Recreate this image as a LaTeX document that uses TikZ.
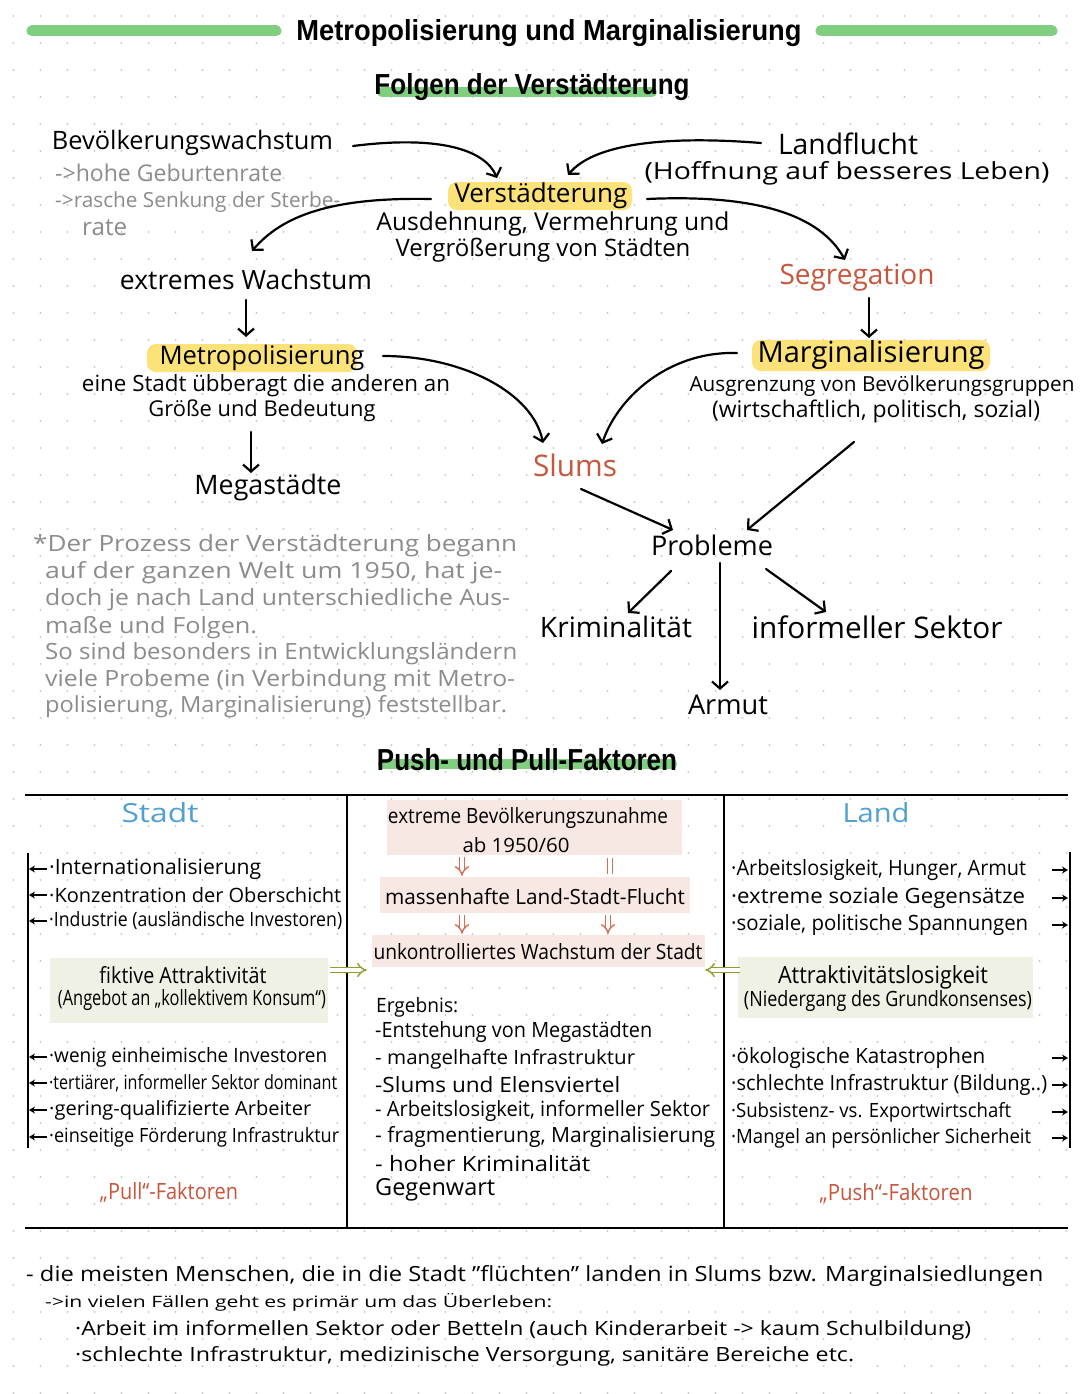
\documentclass[tikz,border=0pt]{standalone}
\usepackage{graphicx}
\usepackage{fontspec}
\setmainfont{Open Sans}
\newfontfamily\titlefont{Liberation Sans}
\usetikzlibrary{arrows.meta,calc}
\definecolor{dotc}{RGB}{205,205,205}
\definecolor{bandgreen}{RGB}{128,207,128}
\definecolor{hly}{RGB}{252,226,120}
\definecolor{redtxt}{RGB}{200,85,60}
\definecolor{bluetxt}{RGB}{80,160,210}
\definecolor{graytxt}{RGB}{140,140,140}
\definecolor{pinkfill}{RGB}{248,232,228}
\definecolor{lgfill}{RGB}{238,241,228}
\definecolor{olive}{RGB}{140,160,50}
\definecolor{redarr}{RGB}{214,110,85}
\newcommand\fw[2]{\resizebox{#1pt}{!}{#2}}
\newcommand\fwh[3]{\resizebox{#1pt}{#2pt}{#3}}
\begin{document}
\begin{tikzpicture}[x=1pt,y=-1pt,
  txt/.style={inner sep=0pt, font=\fontsize{20}{24}\selectfont},
  lt/.style={txt, anchor=west},
  gtxt/.style={text=graytxt},
  head/.style={inner sep=0pt, anchor=base},
  band/.style={line width=10pt, line cap=round, draw=bandgreen},
  arr/.style={line width=2.2pt, line cap=round, -{Straight Barb[length=7pt,width=16pt]}},
  sarr/.style={line width=1.4pt, -{Stealth[length=6pt,width=7pt]}},
  tline/.style={line width=2.5pt},
  bline/.style={line width=2pt},
  pbox/.style={fill=pinkfill, inner sep=0pt},
  gbox/.style={fill=lgfill, inner sep=0pt},
  dblr/.style={draw=redarr, double=white, double distance=3.5pt, line width=1.4pt},
  dblg/.style={draw=olive, double=white, double distance=3.5pt, line width=1.4pt},
]
\useasboundingbox (0,0) rectangle (1080,1394);
\fill[white] (0,0) rectangle (1080,1394);
\foreach \i in {0,...,39} \foreach \j in {0,...,51} \fill[dotc] (13.5+27*\i, 16+27*\j) circle (1.1pt);

% ---------- headings ----------
\draw[band, line width=11pt] (32,31) -- (276,31);
\draw[band, line width=11pt] (821,31) -- (1052,31);
\node[head] (title) at (549,41) {\fwh{505}{21}{\titlefont\bfseries Metropolisierung und Marginalisierung}};
\draw[band] (382,92) -- (652,92);
\node[head] (folgen) at (532,95) {\fwh{315}{21}{\titlefont\bfseries Folgen der Verstädterung}};

% ---------- highlights ----------
\fill[hly, rounded corners=9pt] (448,182) rectangle (632,210);
\fill[hly, rounded corners=9pt] (147,344) rectangle (357,372);
\fill[hly, rounded corners=9pt] (752,340) rectangle (990,371);

% ---------- top diagram ----------
\node[txt] (bev) at (192.5,143) {\fw{281}{Bevölkerungswachstum}};
\node[lt, gtxt] (geb) at (55,173) {\fw{227}{->hohe Geburtenrate}};
\node[lt, gtxt] (sterbe) at (55,202) {\fw{285}{->rasche Senkung der Sterbe-}};
\node[lt, gtxt] (rate) at (82,228) {\fw{45}{rate}};
\node[txt] (verst) at (541,196) {\fw{173}{Verstädterung}};
\node[txt] (ausd) at (553,224) {\fw{353}{Ausdehnung, Vermehrung und}};
\node[txt] (vergr) at (543,250) {\fw{295}{Vergrößerung von Städten}};
\node[txt] (landfl) at (848,144) {\fw{140}{Landflucht}};
\node[txt] (hoff) at (847,173) {\fwh{405}{18}{(Hoffnung auf besseres Leben)}};
\node[txt] (extr) at (246,280) {\fw{252}{extremes Wachstum}};
\node[txt, text=redtxt] (segr) at (857,278) {\fw{155}{Segregation}};
\node[txt] (metro) at (262,358) {\fw{205}{Metropolisierung}};
\node[txt] (eine) at (266,386) {\fw{368}{eine Stadt übberagt die anderen an}};
\node[txt] (groesse) at (262,411) {\fw{227}{Größe und Bedeutung}};
\node[txt] (mega) at (268,488) {\fw{147}{Megastädte}};
\node[txt] (margi) at (871,355) {\fw{227}{Marginalisierung}};
\node[txt] (ausg) at (882,386) {\fw{385}{Ausgrenzung von Bevölkerungsgruppen}};
\node[txt] (wirt) at (876,411) {\fw{328}{(wirtschaftlich, politisch, sozial)}};
\node[txt, text=redtxt] (slums) at (575,465) {\fw{84}{Slums}};
\node[txt] (probl) at (712,545) {\fw{122}{Probleme}};
\node[txt] (krim) at (616,627) {\fw{152}{Kriminalität}};
\node[txt] (inform) at (877,627) {\fw{251}{informeller Sektor}};
\node[txt] (armut) at (728,705) {\fw{80}{Armut}};

\draw[arr] ($(bev)+(160.5,3)$) .. controls +(87,-11) and +(-12,-28) .. ($(verst)+(-44,-18)$);
\draw[arr] ($(landfl)+(-87,-1)$) .. controls +(-100,-8) and +(25,-30) .. ($(verst)+(27,-21)$);
\draw[arr] ($(verst)+(-110,3)$) .. controls +(-100,-2) and +(30,-35) .. ($(extr)+(6,-29)$);
\draw[arr] ($(verst)+(106,3)$) .. controls +(110,-5) and +(-25,-45) .. ($(segr)+(-12,-18)$);
\draw[arr] ($(extr)+(0,20)$) -- ($(metro)+(-16,-21)$);
\draw[arr] ($(segr)+(12,20)$) -- ($(margi)+(-2,-17)$);
\draw[arr] ($(groesse)+(-11,21)$) -- ($(mega)+(-17,-15)$);
\draw[arr] ($(metro)+(121,-2)$) .. controls +(80,0) and +(-10,-50) .. ($(slums)+(-32,-22)$);
\draw[arr] ($(margi)+(-134,-2)$) .. controls +(-70,-2) and +(15,-45) .. ($(slums)+(27,-21)$);
\draw[arr] ($(slums)+(6,24)$) -- ($(probl)+(-39,-15)$);
\draw[arr] ($(wirt)+(-22,31)$) -- ($(probl)+(35,-15)$);
\draw[arr] ($(probl)+(-41,26)$) -- ($(krim)+(12,-14)$);
\draw[arr] ($(probl)+(8,18)$) -- ($(armut)+(-8,-15)$);
\draw[arr] ($(probl)+(54,24)$) -- ($(inform)+(-51,-15)$);

% ---------- gray note ----------
\node[lt, gtxt] (p1) at (33,546) {\fwh{484}{17}{*Der Prozess der Verstädterung begann}};
\node[lt, gtxt] (p2) at (45,573) {\fwh{457}{17}{auf der ganzen Welt um 1950, hat je-}};
\node[lt, gtxt] (p3) at (45,600) {\fwh{465}{17}{doch je nach Land unterschiedliche Aus-}};
\node[lt, gtxt] (p4) at (45,628) {\fwh{212}{17}{maße und Folgen.}};
\node[lt, gtxt] (p5) at (45,654) {\fwh{472}{17}{So sind besonders in Entwicklungsländern}};
\node[lt, gtxt] (p6) at (45,681) {\fwh{470}{17}{viele Probeme (in Verbindung mit Metro-}};
\node[lt, gtxt] (p7) at (45,707) {\fwh{462}{17}{polisierung, Marginalisierung) feststellbar.}};

% ---------- push / pull ----------
\draw[band] (383,764) -- (672,764);
\node[head] (pp) at (527,770) {\fwh{300}{22}{\titlefont\bfseries Push- und Pull-Faktoren}};

\draw[tline] (25,795) -- (1068,795);
\draw[tline] (25,1228) -- (1068,1228);
\draw[tline] (347,795) -- (347,1228);
\draw[tline] (724,795) -- (724,1228);

% left column
\node[txt, text=bluetxt] (stadt) at (160,813) {\fwh{77}{20}{Stadt}};
\draw[bline] (28,853) -- (28,1148);
\node[lt] (L1) at (49,869) {\fwh{212}{16}{·Internationalisierung}};
\node[lt] (L2) at (49,895) {\fwh{292}{15}{·Konzentration der Oberschicht}};
\node[lt] (L3) at (49,921) {\fwh{293}{15}{·Industrie (ausländische Investoren)}};
\node[gbox, minimum width=278, minimum height=65] (fbox) at (189,990.5) {};
\node[txt] (fik) at (183,975) {\fwh{167}{17}{fiktive Attraktivität}};
\node[txt] (angeb) at (192,1000) {\fwh{268}{16}{(Angebot an „kollektivem Konsum“)}};
\node[lt] (L4) at (49,1057) {\fwh{278}{15}{·wenig einheimische Investoren}};
\node[lt] (L5) at (49,1083) {\fwh{288}{15}{·tertiärer, informeller Sektor dominant}};
\node[lt] (L6) at (49,1110) {\fwh{262}{15}{·gering-qualifizierte Arbeiter}};
\node[lt] (L7) at (49,1137) {\fwh{290}{15}{·einseitige Förderung Infrastruktur}};
\foreach \n in {L1,L2,L3,L4,L5,L6,L7} \draw[sarr] ([xshift=-2pt]\n.west) -- ++(-18,0);
\node[txt, text=redtxt] (pull) at (169,1192) {\fwh{138}{17}{„Pull“-Faktoren}};

% middle column
\node[pbox, minimum width=295, minimum height=55] (pb1) at (534.5,827.5) {};
\node[txt] (text1) at (528,818) {\fwh{280}{16}{extreme Bevölkerungszunahme}};
\node[txt] (tab) at (516,845) {\fwh{107}{15}{ab 1950/60}};
\node[pbox, minimum width=310, minimum height=36] (pb2) at (535,895) {};
\node[txt] (tmass) at (535,897) {\fwh{300}{16}{massenhafte Land-Stadt-Flucht}};
\node[pbox, minimum width=333, minimum height=32] (pb3) at (538.5,951) {};
\node[txt] (tunk) at (538,952) {\fwh{329}{16}{unkontrolliertes Wachstum der Stadt}};
\draw[dblr, -{Implies}] ($(pb1.south)+(-72.5,2)$) -- ($(pb2.north)+(-73,-1)$);
\draw[dblr] ($(pb1.south)+(75.5,3)$) -- ($(pb2.north)+(75,-3)$);
\draw[dblr, -{Implies}] ($(pb2.south)+(-73,2)$) -- ($(pb3.north)+(-76.5,-1)$);
\draw[dblr, -{Implies}] ($(pb2.south)+(73,2)$) -- ($(pb3.north)+(69.5,-1)$);

\node[lt] (E0) at (376,1007) {\fwh{82}{15}{Ergebnis:}};
\node[lt] (E1) at (375,1032) {\fwh{277}{16}{-Entstehung von Megastädten}};
\node[lt] (E2) at (375,1059) {\fwh{260}{15}{- mangelhafte Infrastruktur}};
\node[lt] (E3) at (375,1085) {\fwh{245}{16}{-Slums und Elensviertel}};
\node[lt] (E4) at (375,1111) {\fwh{335}{16}{- Arbeitslosigkeit, informeller Sektor}};
\node[lt] (E5) at (375,1137) {\fwh{340}{16}{- fragmentierung, Marginalisierung}};
\node[lt] (E6) at (375,1164) {\fwh{215}{16}{- hoher Kriminalität}};
\node[lt] (E7) at (375,1190) {\fwh{120}{17}{Gegenwart}};

% right column
\node[txt, text=bluetxt] (landh) at (876,813) {\fwh{67}{20}{Land}};
\draw[bline] (1070,852) -- (1070,1148);
\node[lt] (R1) at (731,870) {\fwh{295}{16}{·Arbeitslosigkeit, Hunger, Armut}};
\node[lt] (R2) at (731,898) {\fwh{294}{16}{·extreme soziale Gegensätze}};
\node[lt] (R3) at (731,925) {\fwh{297}{16}{·soziale, politische Spannungen}};
\node[gbox, minimum width=295, minimum height=61] (abox) at (885.5,987.5) {};
\node[txt] (attr) at (883,977) {\fwh{210}{18}{Attraktivitätslosigkeit}};
\node[txt] (nied) at (888,1001) {\fwh{288}{16}{(Niedergang des Grundkonsenses)}};
\node[lt] (R4) at (731,1058) {\fwh{254}{16}{·ökologische Katastrophen}};
\node[lt] (R5) at (731,1085) {\fwh{316}{16}{·schlechte Infrastruktur (Bildung..)}};
\node[lt] (R6) at (731,1112) {\fwh{280}{15}{·Subsistenz- vs. Exportwirtschaft}};
\node[lt] (R7) at (731,1138) {\fwh{300}{15}{·Mangel an persönlicher Sicherheit}};
\foreach \n in {R1,R2,R3,R4,R5,R6,R7} \draw[sarr] ($(\n.west)+(321,0)$) -- ++(16,0);
\node[txt, text=redtxt] (push) at (896,1193) {\fwh{153}{17}{„Push“-Faktoren}};

\draw[dblg, -{Implies}] ($(fbox.east)+(2,-20.5)$) -- ($(pb3.west)+(-5,19)$);
\draw[dblg, -{Implies}] ($(abox.west)+(2,-17.5)$) -- ($(pb3.east)+(0,19)$);

% ---------- bottom ----------
\node[lt] (b1) at (26,1276) {\fwh{1017}{16}{- die meisten Menschen, die in die Stadt "flüchten" landen in Slums bzw. Marginalsiedlungen}};
\node[lt] (b2) at (45,1302) {\fwh{507}{14}{->in vielen Fällen geht es primär um das Überleben:}};
\node[lt] (b3) at (75,1330) {\fwh{896}{15}{·Arbeit im informellen Sektor oder Betteln (auch Kinderarbeit -> kaum Schulbildung)}};
\node[lt] (b4) at (75,1356) {\fwh{779}{15}{·schlechte Infrastruktur, medizinische Versorgung, sanitäre Bereiche etc.}};
\end{tikzpicture}
\end{document}
